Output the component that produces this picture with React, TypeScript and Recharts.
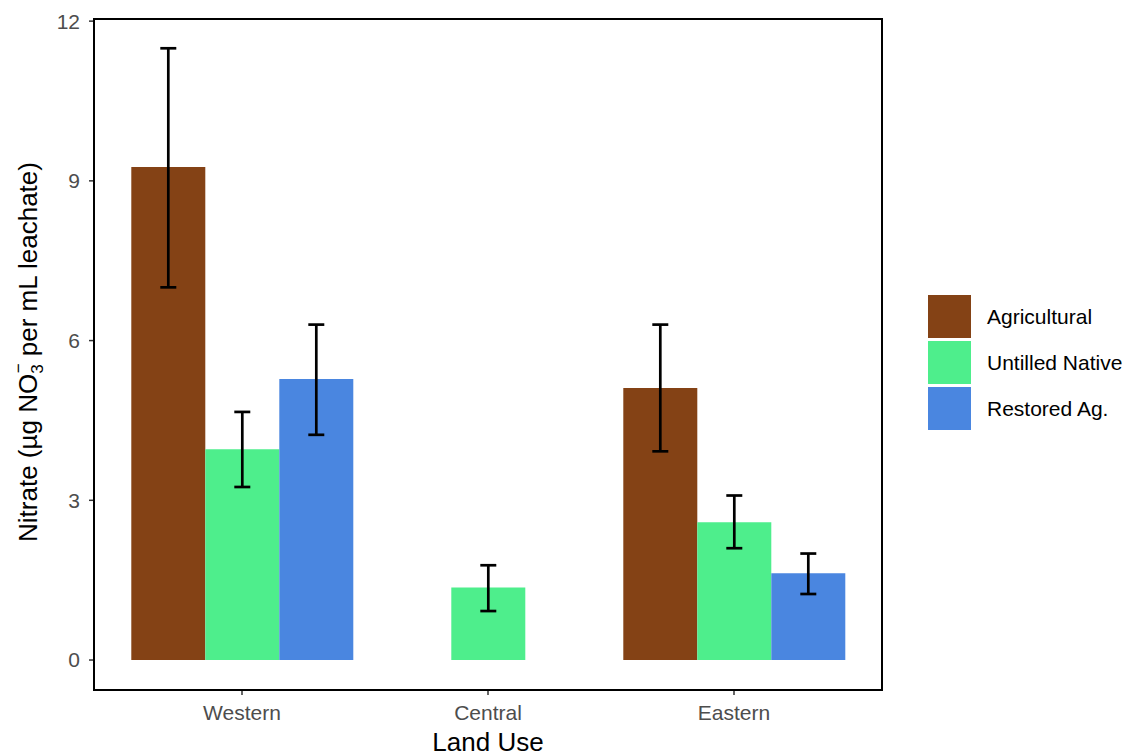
import {
    BarChart,
    Bar,
    XAxis,
    YAxis,
    ErrorBar,
} from "recharts";

// page has an 8px default margin; drop it so the chart sits at 0,0
if (typeof document !== "undefined") {
    document.body.style.margin = "0";
}

const FONT = "'Liberation Sans', Arial, Helvetica, sans-serif";

const COLORS = {
    agricultural: "#844215",
    untilled: "#4EEE8C",
    restored: "#4A86E0",
};

// land use regions along the x axis
const regions = ["Western", "Central", "Eastern"];

// mean nitrate per region (null = not sampled)
const agricultural = [9.26, null, 5.11];
const untilled = [3.96, 1.36, 2.59];
const restored = [5.28, null, 1.63];

// lower / upper bounds of the error bars
const agricultualLow = [7.0, null, 3.92];
const agricultualHigh = [11.49, null, 6.3];
const untilledLow = [3.25, 0.92, 2.1];
const untilledHigh = [4.66, 1.78, 3.09];
const restoredLow = [4.23, null, 1.24];
const restoredHigh = [6.3, null, 2.0];

const yTicks = [0, 3, 6, 9, 12];

const legendItems = [
    { label: "Agricultural", color: COLORS.agricultural },
    { label: "Untilled Native", color: COLORS.untilled },
    { label: "Restored Ag.", color: COLORS.restored },
];

// ErrorBar wants [down, up] offsets from the bar value
const errRange = (
    value: number | null,
    low: number | null,
    high: number | null
) => (value == null || low == null || high == null ? undefined : [value - low, high - value]);

const data = regions.map((region, i) => ({
    region,
    agricultural: agricultural[i],
    untilled: untilled[i],
    restored: restored[i],
    agErr: errRange(agricultural[i], agricultualLow[i], agricultualHigh[i]),
    unErr: errRange(untilled[i], untilledLow[i], untilledHigh[i]),
    reErr: errRange(restored[i], restoredLow[i], restoredHigh[i]),
}));

const tickStyle = { fontSize: 21, fill: "#4D4D4D", fontFamily: FONT };

// y title with NO3- written as stacked sub/superscript
const YTitle = () => (
    <text
        x={37}
        y={352}
        transform="rotate(-90 37 352)"
        textAnchor="middle"
        fontSize={26}
        fontFamily={FONT}
        fill="#000"
    >
        <tspan>Nitrate (µg NO</tspan>
        <tspan fontSize={17} dy={6}>3</tspan>
        <tspan fontSize={17} dx={-9} dy={-19}>−</tspan>
        <tspan dy={13}> per mL leachate)</tspan>
    </text>
);

const XTitle = () => (
    <text
        x={488}
        y={751}
        textAnchor="middle"
        fontSize={26}
        fontFamily={FONT}
        fill="#000"
    >
        Land Use
    </text>
);

const errProps = { stroke: "#000", strokeWidth: 2.7, width: 8 };

export default function App() {
    return (
        <div style={{ position: "relative", width: 1128, height: 756, background: "#fff", fontFamily: FONT }}>
            <BarChart
                width={1128}
                height={756}
                data={data}
                margin={{ top: 19, right: 246, left: 0, bottom: 0 }}
                barGap={0}
                barCategoryGap="5%"
            >
                <XAxis
                    dataKey="region"
                    height={66}
                    padding={{ left: 25, right: 25 }}
                    axisLine={false}
                    tickLine={{ stroke: "#333", strokeWidth: 1.5 }}
                    tickSize={5}
                    tickMargin={10}
                    tick={tickStyle}
                    label={{ content: <XTitle /> }}
                />
                <YAxis
                    type="number"
                    width={94}
                    domain={[-0.563, 12.04]}
                    ticks={yTicks}
                    allowDataOverflow
                    axisLine={false}
                    tickLine={{ stroke: "#333", strokeWidth: 1.5 }}
                    tickSize={5}
                    tickMargin={9}
                    tick={tickStyle}
                    label={{ content: <YTitle /> }}
                />

                <Bar dataKey="agricultural" fill={COLORS.agricultural} isAnimationActive={false}>
                    <ErrorBar dataKey="agErr" direction="y" {...errProps} />
                </Bar>
                <Bar dataKey="untilled" fill={COLORS.untilled} isAnimationActive={false}>
                    <ErrorBar dataKey="unErr" direction="y" {...errProps} />
                </Bar>
                <Bar dataKey="restored" fill={COLORS.restored} isAnimationActive={false}>
                    <ErrorBar dataKey="reErr" direction="y" {...errProps} />
                </Bar>
            </BarChart>

            {/* panel border */}
            <div
                style={{
                    position: "absolute",
                    left: 93,
                    top: 18,
                    width: 790,
                    height: 673,
                    boxSizing: "border-box",
                    border: "2px solid #000",
                    pointerEvents: "none",
                }}
            />

            {/* legend */}
            <div style={{ position: "absolute", left: 928, top: 295 }}>
                {legendItems.map((item) => (
                    <div
                        key={item.label}
                        style={{ display: "flex", alignItems: "center", height: 43, marginBottom: 3 }}
                    >
                        <div style={{ width: 43, height: 43, background: item.color }} />
                        <span style={{ marginLeft: 16, fontSize: 21, color: "#000", fontFamily: FONT }}>
                            {item.label}
                        </span>
                    </div>
                ))}
            </div>
        </div>
    );
}
